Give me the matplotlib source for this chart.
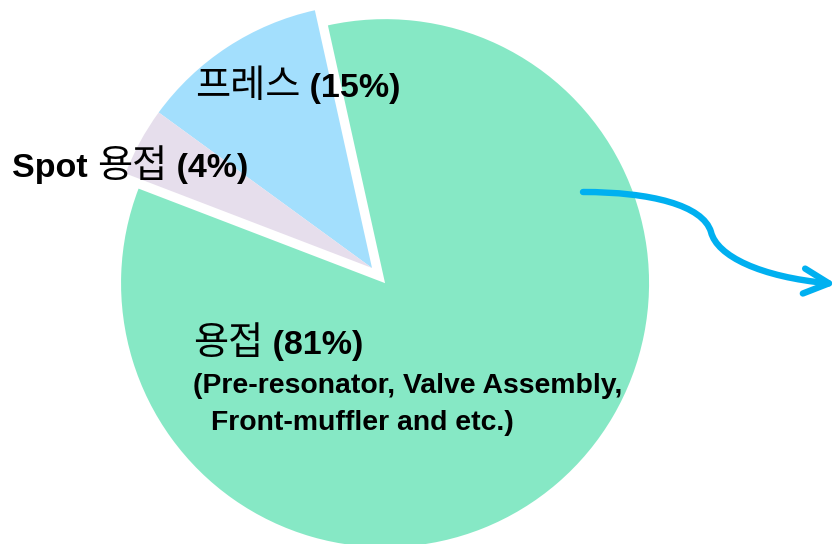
import matplotlib.pyplot as plt
from matplotlib.path import Path
from matplotlib.patches import FancyArrowPatch

# wedge shares as drawn (angles), labels carry the stated %
segments = ['프레스', 'Spot 용접', '용접']
label_pct = [15, 4, 81]
wedge_share = [11.5, 4.2, 84.3]
colors = ['#A3DFFD', '#E6DEEC', '#86E8C5']

W, H = 839, 544
fig = plt.figure(figsize=(W / 100, H / 100), dpi=100)
ax = fig.add_axes([0, 0, 1, 1])

# pie in pixel units (y flipped so 0 is the bottom)
ax.pie(wedge_share, colors=colors, startangle=102.5, counterclock=True,
       radius=264, center=(372, H - 268), explode=[0, 0, 20],
       wedgeprops=dict(linewidth=0))
ax.set_xlim(0, W)
ax.set_ylim(0, H)
ax.set_aspect('equal')
ax.axis('off')

KO = dict(family=['Noto Sans CJK KR', 'DejaVu Sans'], fontweight='normal')
EN = dict(family=['Liberation Sans', 'DejaVu Sans'], fontweight='bold')

fig.canvas.draw()
rend = fig.canvas.get_renderer()


def rich_text(x, y, parts):
    # put text pieces one after another on the same baseline
    for s, style, size in parts:
        t = ax.text(x, H - y, s, va='baseline', ha='left', fontsize=size,
                    color='black', **style)
        bb = t.get_window_extent(renderer=rend)
        x = ax.transData.inverted().transform((bb.x1, bb.y0))[0]


big_ko, big_en, small_en = 27.5, 24.5, 20.4
rich_text(195, 97, [(segments[0], KO, big_ko), (f' ({label_pct[0]}%)', EN, big_en)])
rich_text(12, 177, [('Spot ', EN, big_en), ('용접', KO, big_ko),
                    (f' ({label_pct[1]}%)', EN, big_en)])
rich_text(193, 354, [(segments[2], KO, big_ko), (f' ({label_pct[2]}%)', EN, big_en)])
rich_text(193, 393, [('(Pre-resonator, Valve Assembly,', EN, small_en)])
rich_text(211, 430, [('Front-muffler and etc.)', EN, small_en)])

# curved blue arrow pointing out of the pie
verts = [(583, 192), (650, 192), (703, 205), (711, 232),
         (717, 256), (760, 277), (836, 284)]
verts = [(x, H - y) for x, y in verts]
codes = [Path.MOVETO, Path.CURVE4, Path.CURVE4, Path.CURVE4,
         Path.CURVE4, Path.CURVE4, Path.CURVE4]
arrow = FancyArrowPatch(path=Path(verts, codes),
                        arrowstyle='->,head_length=0.9,head_width=0.45',
                        mutation_scale=20, color='#00B0F0', lw=4.6,
                        capstyle='round', joinstyle='round')
ax.add_patch(arrow)

fig.savefig('out.png', dpi=100)
